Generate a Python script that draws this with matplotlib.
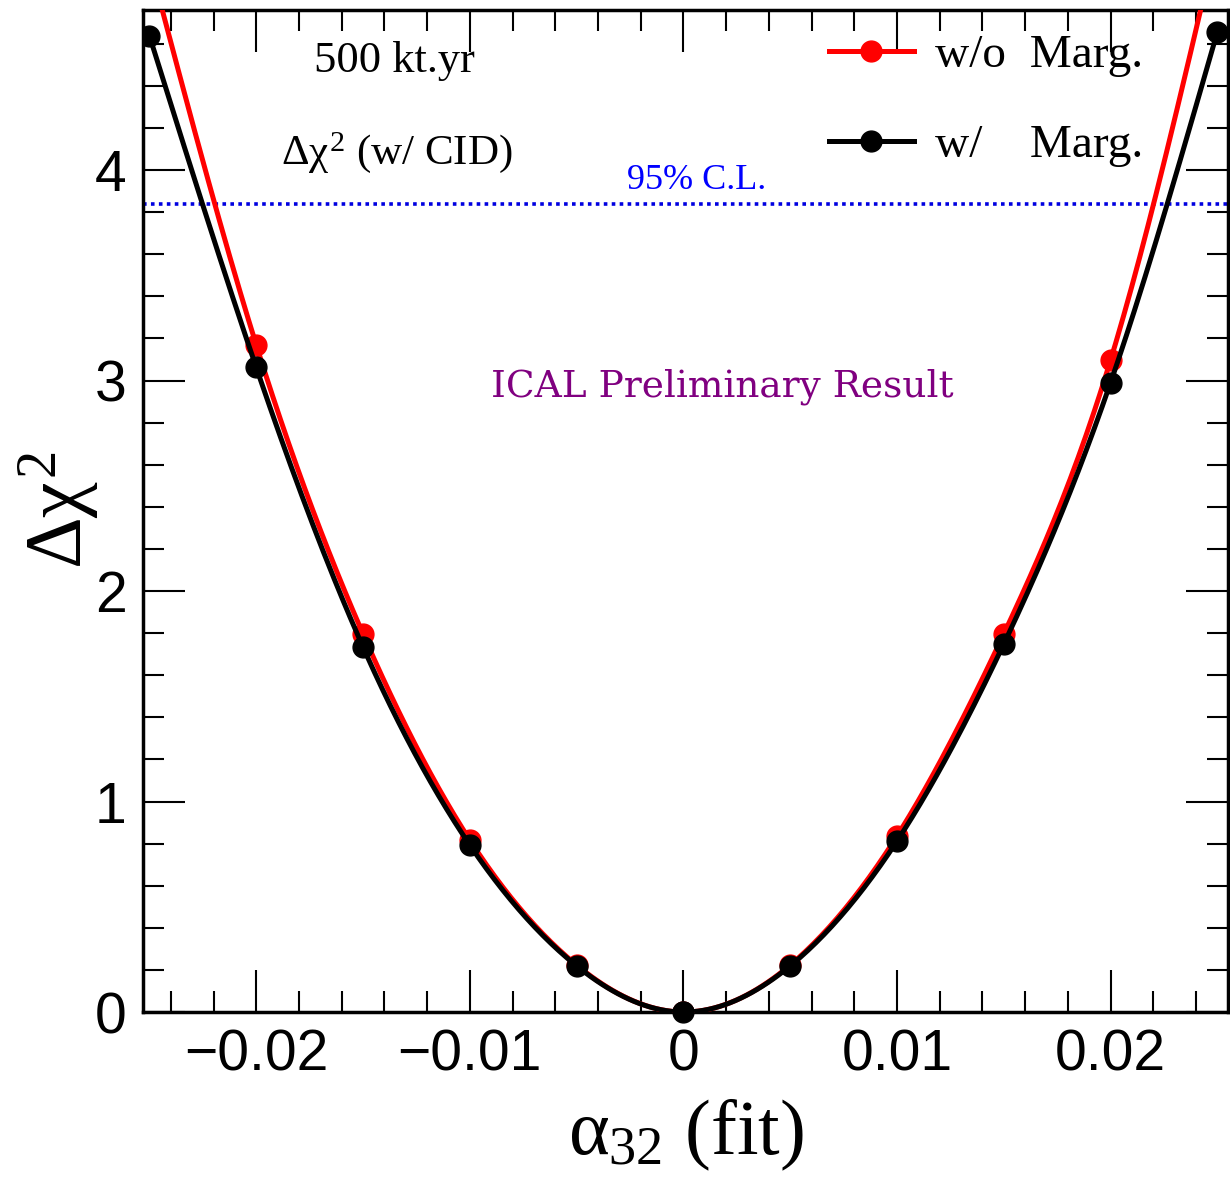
import numpy as np
import matplotlib.pyplot as plt
from matplotlib.ticker import MultipleLocator

plt.rcParams['mathtext.fontset'] = 'custom'
plt.rcParams['mathtext.rm'] = 'Liberation Serif'
plt.rcParams['mathtext.it'] = 'Liberation Serif'

# alpha_32 (fit) scan points
alpha = [-0.025, -0.02, -0.015, -0.01, -0.005, 0.0, 0.005, 0.01, 0.015, 0.02, 0.025]
chi2_nomarg = [4.99, 3.169, 1.796, 0.817, 0.223, 0.0, 0.223, 0.836, 1.796, 3.097, 5.10]
chi2_marg = [4.637, 3.062, 1.734, 0.793, 0.219, 0.0, 0.219, 0.812, 1.748, 2.99, 4.656]
cl95 = 3.84


def smooth(x, y, n=400):
    # natural cubic spline, like ROOT "C" drawing option
    x = np.asarray(x, float)
    y = np.asarray(y, float)
    h = np.diff(x)
    m = len(x)
    A = np.zeros((m, m))
    b = np.zeros(m)
    A[0, 0] = A[-1, -1] = 1
    for i in range(1, m - 1):
        A[i, i - 1] = h[i - 1]
        A[i, i] = 2 * (h[i - 1] + h[i])
        A[i, i + 1] = h[i]
        b[i] = 6 * ((y[i + 1] - y[i]) / h[i] - (y[i] - y[i - 1]) / h[i - 1])
    M = np.linalg.solve(A, b)
    xs = np.linspace(x[0], x[-1], n)
    k = np.clip(np.searchsorted(x, xs) - 1, 0, m - 2)
    t0 = x[k + 1] - xs
    t1 = xs - x[k]
    hk = h[k]
    ys = (M[k] * t0**3 + M[k + 1] * t1**3) / (6 * hk) \
        + (y[k] / hk - M[k] * hk / 6) * t0 + (y[k + 1] / hk - M[k + 1] * hk / 6) * t1
    return xs, ys


fig = plt.figure(figsize=(12.3, 11.82), dpi=100)
ax = fig.add_axes([0.1163, 0.1438, 0.8821, 0.8477])

xs, ys = smooth(alpha, chi2_nomarg)
ax.plot(xs, ys, color='red', lw=3.6, zorder=3)
ax.plot(alpha, chi2_nomarg, 'o', color='red', ms=15, zorder=3)
xs, ys = smooth(alpha, chi2_marg)
ax.plot(xs, ys, color='black', lw=3.6, zorder=4)
ax.plot(alpha, chi2_marg, 'o', color='black', ms=15, zorder=4)
# point at the minimum is drawn over the frame
ax.plot(alpha[5], chi2_marg[5], 'o', color='black', ms=15, zorder=5, clip_on=False)

# legend handles
ax.plot([], [], '-o', color='red', lw=3.6, ms=15, label='w/o  Marg.')
ax.plot([], [], '-o', color='black', lw=3.6, ms=15, label='w/    Marg.')
leg = ax.legend(loc='upper left', bbox_to_anchor=(0.632, 0.976), frameon=False,
                prop={'family': 'Liberation Serif', 'size': 34},
                handlelength=1.8, handletextpad=0.45, labelspacing=1.0,
                borderpad=0, borderaxespad=0)

ax.axhline(cl95, color='#0000e0', lw=2.6, ls=(0, (1, 1.2)), zorder=2)

ax.set_xlim(-0.0253, 0.0255)
ax.set_ylim(0, 4.76)

ax.xaxis.set_major_locator(MultipleLocator(0.01))
ax.xaxis.set_minor_locator(MultipleLocator(0.002))
ax.yaxis.set_major_locator(MultipleLocator(1))
ax.yaxis.set_minor_locator(MultipleLocator(0.2))
ax.set_xticks([-0.02, -0.01, 0, 0.01, 0.02])
ax.set_xticklabels(['\u22120.02', '\u22120.01', '0', '0.01', '0.02'])
ax.set_yticks([0, 1, 2, 3, 4])
ax.set_yticklabels(['0', '1', '2', '3', '4'])
ax.tick_params(which='both', direction='in', top=True, right=True, width=1.5,
               labelsize=41)
ax.tick_params(which='major', length=30, pad=12)
ax.tick_params(which='minor', length=15)
for lab in ax.get_xticklabels() + ax.get_yticklabels():
    lab.set_family('Liberation Sans')
for s in ax.spines.values():
    s.set_linewidth(2.5)

ax.set_xlabel(r'$\alpha_{32}$ (fit)', family='Liberation Serif', fontsize=56, labelpad=10)
fig.text(0.048, 0.568, r'$\Delta\chi^{2}$', fontsize=58, rotation=90,
         ha='center', va='center')

ax.text(0.232, 0.949, '500 kt.yr', transform=ax.transAxes, family='Liberation Serif',
        fontsize=32, ha='center', va='center')
ax.text(0.234, 0.858, r'$\Delta\chi^{2}$ (w/ CID)', transform=ax.transAxes,
        family='Liberation Serif', fontsize=31, ha='center', va='center')
ax.text(0.51, 0.83, '95% C.L.', transform=ax.transAxes, family='Liberation Serif',
        color='#0000ff', fontsize=26, ha='center', va='center')
ax.text(0.534, 0.624, 'ICAL Preliminary Result', transform=ax.transAxes,
        family='DejaVu Serif', color='#800080', fontsize=27, ha='center', va='center')

fig.savefig('out.png', dpi=100)
